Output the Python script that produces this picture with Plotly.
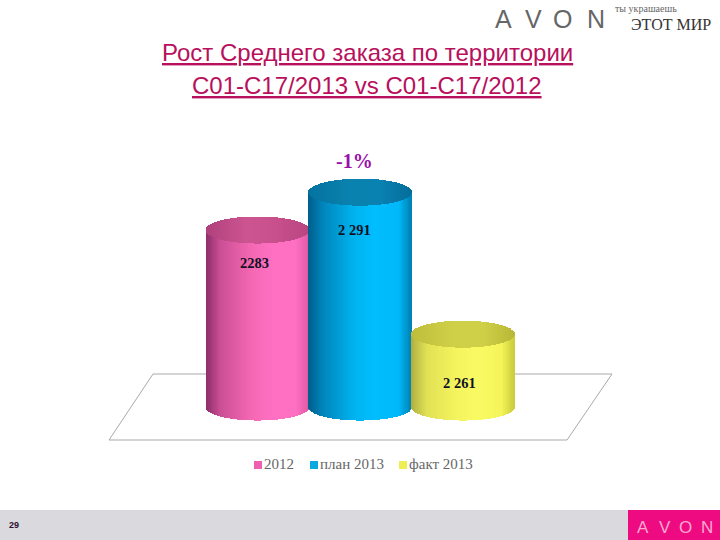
import numpy as np
import plotly.graph_objects as go

series_names = ["2012", "план 2013", "факт 2013"]
series_values = [2283, 2291, 2261]
value_labels = ["2283", "2 291", "2 261"]
legend_colors = ["#f060b0", "#0aa8e0", "#eeee55"]
title_lines = ["Рост Среднего заказа по территории", "C01-C17/2013 vs C01-C17/2012"]
change_label = "-1%"
page_number = "29"

BASE = 2245.6
Y_RANGE = [2217.5, 2331.6]
X_RANGE = [-2.507, 4.503]
HALF_W = 0.5
B_UNITS = 13.5 / 4.73   # ellipse semi-minor axis in value units
N = 120

side_stops = [
    [(140, 45, 105), (205, 80, 150), (245, 105, 180), (255, 112, 195), (255, 112, 195), (225, 90, 165)],
    [(0, 95, 140), (0, 135, 190), (0, 180, 240), (0, 190, 255), (0, 185, 250), (0, 130, 180)],
    [(175, 175, 65), (225, 225, 85), (245, 245, 95), (250, 250, 100), (245, 245, 90), (205, 205, 60)],
]
top_stops = [
    [(175, 65, 125), (205, 85, 145), (200, 80, 140), (185, 70, 130)],
    [(5, 115, 160), (10, 130, 175), (10, 130, 178), (5, 110, 155)],
    [(190, 190, 60), (208, 208, 72), (208, 208, 72), (185, 185, 55)],
]
stop_pos_side = [0, 0.15, 0.45, 0.65, 0.88, 1]
stop_pos_top = [0, 0.4, 0.7, 1]


def ramp(stops, pos, t):
    arr = np.array(stops, dtype=float)
    return [f"rgb({int(r)},{int(g)},{int(b)})" for r, g, b in
            zip(*(np.interp(t, pos, arr[:, i]) for i in range(3)))]


fig = go.Figure()
for i, value in enumerate(series_values):
    u = (np.arange(N) + 0.5) / N
    xs = i - HALF_W + u * 2 * HALF_W
    arc = B_UNITS * np.sqrt(1 - (2 * u - 1) ** 2)
    # body: from the lower edge of the base ellipse to the value's ellipse centre
    fig.add_bar(x=xs, base=BASE - arc, y=(value - BASE) + arc, width=2 * HALF_W / N * 1.15,
                marker=dict(color=ramp(side_stops[i], stop_pos_side, u), line_width=0),
                showlegend=False, hoverinfo="skip")
    # top ellipse
    fig.add_bar(x=xs, base=value - arc, y=2 * arc, width=2 * HALF_W / N * 1.15,
                marker=dict(color=ramp(top_stops[i], stop_pos_top, u), line_width=0),
                showlegend=False, hoverinfo="skip")


def px_x(p):
    return X_RANGE[0] + p / 720 * (X_RANGE[1] - X_RANGE[0])


def px_y(p):
    return Y_RANGE[1] - p / 540 * (Y_RANGE[1] - Y_RANGE[0])


# legend keys with their labels, placed just under the floor
for name, color, p in zip(series_names, legend_colors, [258, 314, 403]):
    fig.add_scatter(x=[px_x(p)], y=[px_y(465)], mode="markers+text", name=name, text=[name],
                    textposition="middle right", showlegend=False, hoverinfo="skip",
                    textfont=dict(family="Liberation Serif", size=15, color="#666666"),
                    marker=dict(symbol="square", size=8, color=color))


def T(text, x, y, size, color, family="Liberation Serif", bold=False, **kw):
    fig.add_annotation(x=x / 720, y=1 - y / 540, xref="paper", yref="paper", text=f"<b>{text}</b>" if bold else text,
                       xanchor="center", yanchor="middle", showarrow=False,
                       font=dict(family=family, size=size, color=color), **kw)


SANS = "Liberation Sans"
T(f"<u>{title_lines[0]}</u>", 367, 53, 24, "#b8105c", SANS)
T(f"<u>{title_lines[1]}</u>", 367, 86, 24, "#b8105c", SANS)
T(change_label, 354, 161, 20, "#9a10a8", bold=True)
for label, (px, py) in zip(value_labels, [(254, 263), (354, 230), (460, 383)]):
    T(label, px, py, 14.5, "#111122", bold=True)
T(page_number, 14, 525, 9, "#301030", SANS, bold=True)
for letter, px in zip("AVON", [504, 533, 562, 596]):
    T(letter, px, 19, 25, "#666666", SANS)
T("ты украшаешь", 646, 8, 10, "#666666")
T("ЭТОТ МИР", 671, 25, 16, "#333333")
for letter, px in zip("AVON", [643, 665, 685, 707]):
    T(letter, px, 527, 17, "#ffa8d0", SANS)

# floor, footer band and pink block
fig.add_shape(type="path", xref="paper", yref="paper", layer="below",
              path=f"M {153/720} {1-374/540} L {612/720} {1-374/540} L {567/720} {1-440/540} L {109/720} {1-440/540} Z",
              line=dict(color="#a9a9a9", width=1))
fig.add_shape(type="rect", xref="paper", yref="paper", layer="below", x0=0, x1=1, y0=0, y1=30 / 540,
              fillcolor="#d9d9de", line_width=0)
fig.add_shape(type="rect", xref="paper", yref="paper", layer="below", x0=628 / 720, x1=1, y0=0, y1=30 / 540,
              fillcolor="#ee0a80", line_width=0)

fig.update_layout(
    width=720, height=540, autosize=False, margin=dict(l=0, r=0, t=0, b=0),
    paper_bgcolor="white", plot_bgcolor="rgba(0,0,0,0)", barmode="overlay", bargap=0,
    xaxis=dict(range=X_RANGE, visible=False, fixedrange=True),
    yaxis=dict(range=Y_RANGE, visible=False, fixedrange=True),
    showlegend=False,
)
fig.write_html("out.html", config={"displayModeBar": False},
               post_script="document.body.style.margin='0';document.body.style.overflow='hidden';")
